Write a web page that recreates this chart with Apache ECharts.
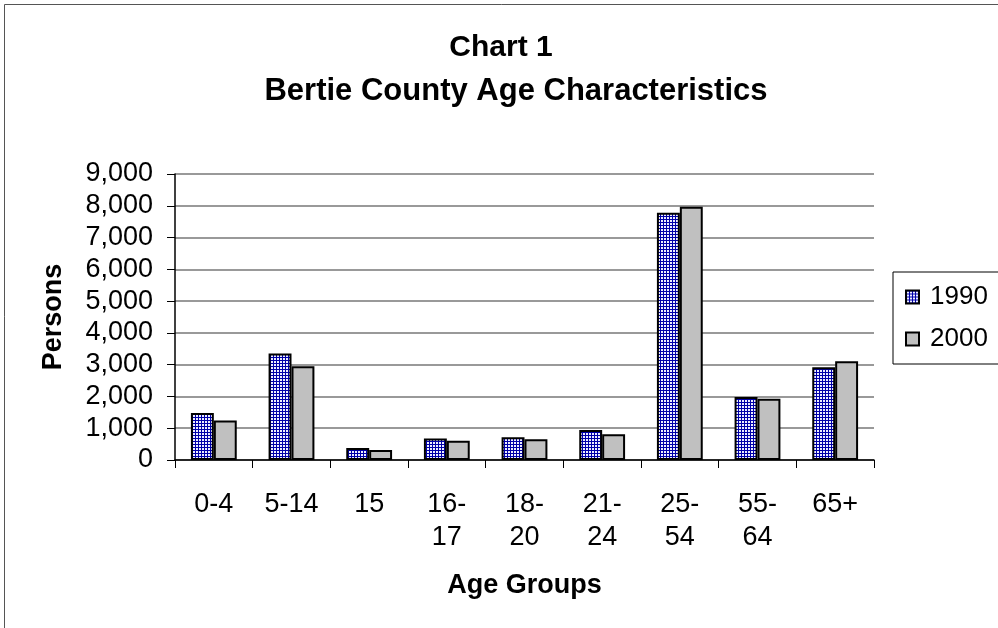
<!DOCTYPE html>
<html>
<head>
<meta charset="utf-8">
<script src="https://cdn.jsdelivr.net/npm/echarts@6/dist/echarts.min.js"></script>
<style>
  html, body { margin: 0; padding: 0; background: #fff; }
  #main { width: 998px; height: 628px; }
</style>
</head>
<body>
<div id="main"></div>
<script>
// chart data
let age_groups = ['0-4', '5-14', '15', '16-\n17', '18-\n20', '21-\n24', '25-\n54', '55-\n64', '65+']
let persons_1990 = [1480, 3350, 375, 680, 715, 945, 7780, 1985, 2920]
let persons_2000 = [1245, 2950, 315, 605, 650, 810, 7970, 1925, 3110]
let y_ticks = [0, 1000, 2000, 3000, 4000, 5000, 6000, 7000, 8000, 9000]

// blue cross-hatch for 1990 bars
function hatchPattern() {
  let c = document.createElement('canvas')
  c.width = 3
  c.height = 3
  let ctx = c.getContext('2d')
  ctx.fillStyle = '#eeeeff'
  ctx.fillRect(0, 0, 3, 3)
  ctx.fillStyle = '#0000a8'
  ctx.fillRect(0, 0, 3, 1)
  ctx.fillRect(0, 0, 1, 3)
  return { image: c, repeat: 'repeat' }
}

let font = "'Liberation Sans', Arial, sans-serif"
let chart = echarts.init(document.getElementById('main'))

let option = {
  animation: false,
  backgroundColor: '#fff',
  title: [
    {
      text: 'Chart 1',
      left: 496,
      textAlign: 'center',
      top: 28,
      textStyle: { fontFamily: font, fontSize: 30, fontWeight: 'bold', color: '#000' }
    },
    {
      text: 'Bertie County Age Characteristics',
      left: 511,
      textAlign: 'center',
      top: 71,
      textStyle: { fontFamily: font, fontSize: 31, fontWeight: 'bold', color: '#000' }
    }
  ],
  graphic: [
    {
      type: 'rect',
      shape: { x: 4.5, y: 4.5, width: 1200, height: 800 },
      style: { fill: 'none', stroke: '#555', lineWidth: 1 },
      silent: true
    }
  ],
  legend: {
    left: 893,
    top: 272,
    orient: 'vertical',
    icon: 'rect',
    padding: [12, 30, 12, 12],
    itemGap: 16,
    itemWidth: 13,
    itemHeight: 13,
    borderColor: '#000',
    borderWidth: 1,
    textStyle: { fontFamily: font, fontSize: 26, color: '#000', padding: [0, 0, 0, 6] },
    data: ['1990', '2000']
  },
  grid: {
    left: 175,
    right: 124,
    top: 174,
    bottom: 168
  },
  xAxis: {
    type: 'category',
    data: age_groups,
    name: 'Age Groups',
    nameLocation: 'middle',
    nameGap: 112,
    nameTextStyle: { fontFamily: font, fontSize: 27, fontWeight: 'bold', color: '#000' },
    axisLine: { lineStyle: { color: '#000', width: 1.5 } },
    axisTick: { show: true, length: 8, lineStyle: { color: '#000' } },
    axisLabel: {
      fontFamily: font,
      fontSize: 27,
      color: '#000',
      margin: 28,
      lineHeight: 33,
      interval: 0
    }
  },
  yAxis: {
    type: 'value',
    min: y_ticks[0],
    max: y_ticks[y_ticks.length - 1],
    interval: 1000,
    name: 'Persons',
    nameLocation: 'middle',
    nameGap: 108,
    nameTextStyle: { fontFamily: font, fontSize: 27, fontWeight: 'bold', color: '#000' },
    axisLine: { show: true, lineStyle: { color: '#000', width: 1.5 } },
    axisTick: { show: true, length: 8, lineStyle: { color: '#000' } },
    axisLabel: {
      fontFamily: font,
      fontSize: 27,
      color: '#000',
      margin: 22,
      formatter: function (v) {
        return v.toLocaleString('en-US')
      }
    },
    splitLine: { lineStyle: { color: '#777', width: 1.5 } }
  },
  series: [
    {
      name: '1990',
      type: 'bar',
      data: persons_1990,
      barGap: '0%',
      barCategoryGap: '41%',
      itemStyle: { color: hatchPattern(), borderColor: '#000', borderWidth: 2 }
    },
    {
      name: '2000',
      type: 'bar',
      data: persons_2000,
      itemStyle: { color: '#c0c0c0', borderColor: '#000', borderWidth: 2 }
    }
  ]
}

chart.setOption(option)
</script>
</body>
</html>
